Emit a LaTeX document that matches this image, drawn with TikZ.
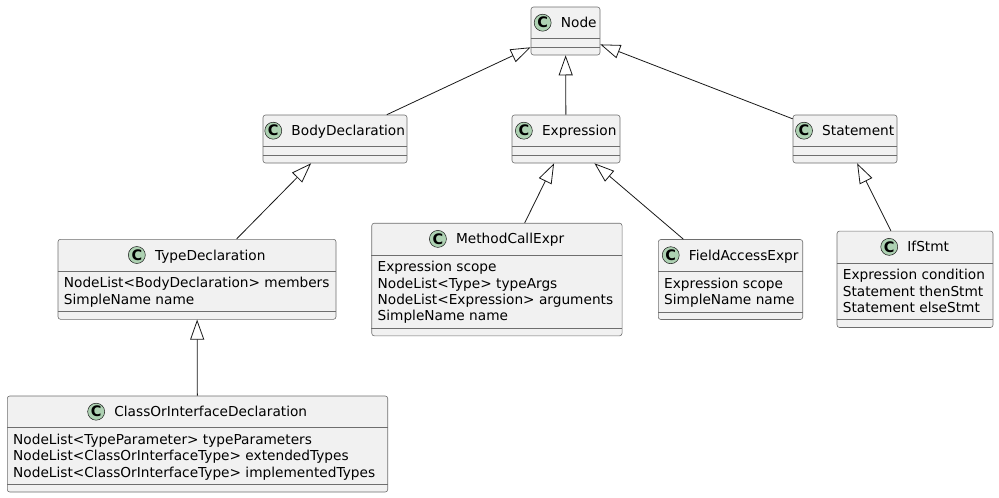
\documentclass[tikz,border=0pt]{standalone}
\usepackage{fontspec}
\setmainfont{DejaVu Sans}
\usepackage{tikz}
\usetikzlibrary{arrows.meta}
\definecolor{boxfill}{HTML}{F1F1F1}
\definecolor{boxline}{HTML}{6E6E6E}
\definecolor{arrowline}{HTML}{181818}
\definecolor{iconfill}{HTML}{ADD1B2}
\tikzset{>={Triangle[open,length=20pt,width=14pt]}}
\tikzset{
	classbox/.style={draw=boxline,line width=0.6pt,fill=boxfill,rounded corners=2.5pt,inner sep=0pt},
	classname/.style={anchor=base,inner sep=0pt,font=\fontsize{13.7}{16.3}\selectfont},
	classicon/.style={circle,draw=arrowline,line width=0.5pt,fill=iconfill,minimum size=17pt,inner sep=0pt,font=\fontsize{14.5}{15}\selectfont\bfseries},
	fields/.style={anchor=north west,inner sep=0pt,align=left,font=\fontsize{13.7}{16.3}\selectfont},
	extends/.style={->,draw=arrowline,line width=0.8pt}
}

\begin{document}
\begin{tikzpicture}[x=1pt,y=-1pt]
			\useasboundingbox (0,0) rectangle (999,498);
			% class boxes
			\node (node) at (565.5,31) [classbox,minimum width=69pt,minimum height=48pt] {};
			\node (body) at (335,139) [classbox,minimum width=144pt,minimum height=48pt] {};
			\node (expr) at (566,139) [classbox,minimum width=108pt,minimum height=48pt] {};
			\node (stmt) at (845,139) [classbox,minimum width=104pt,minimum height=48pt] {};
			\node (typed) at (197,279.3) [classbox,minimum width=278pt,minimum height=80pt] {};
			\node (call) at (496.9,279.5) [classbox,minimum width=250.3pt,minimum height=112.6pt] {};
			\node (field) at (730.5,279.5) [classbox,minimum width=144.4pt,minimum height=80pt] {};
			\node (ifs) at (915,279.3) [classbox,minimum width=156pt,minimum height=96.3pt] {};
			\node (coid) at (197.5,444) [classbox,minimum width=380.4pt,minimum height=96pt] {};
			% compartments
			\foreach \c in {node,body,expr,stmt,typed,call,field,ifs,coid} {
				\draw[boxline,line width=0.6pt] ([yshift=-32pt]\c.north west) -- ([yshift=-32pt]\c.north east);
				\draw[boxline,line width=0.6pt] ([yshift=8pt]\c.south west) -- ([yshift=8pt]\c.south east);
			}
			% names
			\node (node-n) at ([xshift=13.25pt,yshift=-21pt]node.north) [classname] {Node};
			\node (body-n) at ([xshift=13.25pt,yshift=-21pt]body.north) [classname] {BodyDeclaration};
			\node (expr-n) at ([xshift=13.25pt,yshift=-21pt]expr.north) [classname] {Expression};
			\node (stmt-n) at ([xshift=13.25pt,yshift=-21pt]stmt.north) [classname] {Statement};
			\node (typed-n) at ([xshift=13.25pt,yshift=-21pt]typed.north) [classname] {TypeDeclaration};
			\node (call-n) at ([xshift=13.25pt,yshift=-21pt]call.north) [classname] {MethodCallExpr};
			\node (field-n) at ([xshift=13.25pt,yshift=-21pt]field.north) [classname] {FieldAccessExpr};
			\node (ifs-n) at ([xshift=13.25pt,yshift=-21pt]ifs.north) [classname] {IfStmt};
			\node (coid-n) at ([xshift=13.25pt,yshift=-21pt]coid.north) [classname] {ClassOrInterfaceDeclaration};
			\foreach \c in {node,body,expr,stmt,typed,call,field,ifs,coid}
				\node (\c-c) at ([xshift=-18pt,yshift=5pt]\c-n.base west) [classicon] {C};
			% fields
			\node (typed-f) at ([xshift=6pt,yshift=-35.7pt]typed.north west) [fields] {\rule{0pt}{13pt}NodeList<BodyDeclaration> members\\SimpleName name};
			\node (call-f) at ([xshift=6pt,yshift=-35.7pt]call.north west) [fields] {\rule{0pt}{13pt}Expression scope\\NodeList<Type> typeArgs\\NodeList<Expression> arguments\\SimpleName name};
			\node (field-f) at ([xshift=6pt,yshift=-35.7pt]field.north west) [fields] {\rule{0pt}{13pt}Expression scope\\SimpleName name};
			\node (ifs-f) at ([xshift=6pt,yshift=-35.7pt]ifs.north west) [fields] {\rule{0pt}{13pt}Expression condition\\Statement thenStmt\\Statement elseStmt};
			\node (coid-f) at ([xshift=6pt,yshift=-35.7pt]coid.north west) [fields] {\rule{0pt}{13pt}NodeList<TypeParameter> typeParameters\\NodeList<ClassOrInterfaceType> extendedTypes\\NodeList<ClassOrInterfaceType> implementedTypes};
			% inheritance
			\draw[extends] (body) to (node);
			\draw[extends] (expr) to (node);
			\draw[extends] (stmt) to (node);
			\draw[extends] (typed) to (body);
			\draw[extends] (coid) to (typed);
			\draw[extends] (call) to (expr);
			\draw[extends] (field) to (expr);
			\draw[extends] (ifs) to (stmt);
		\end{tikzpicture}
\end{document}
